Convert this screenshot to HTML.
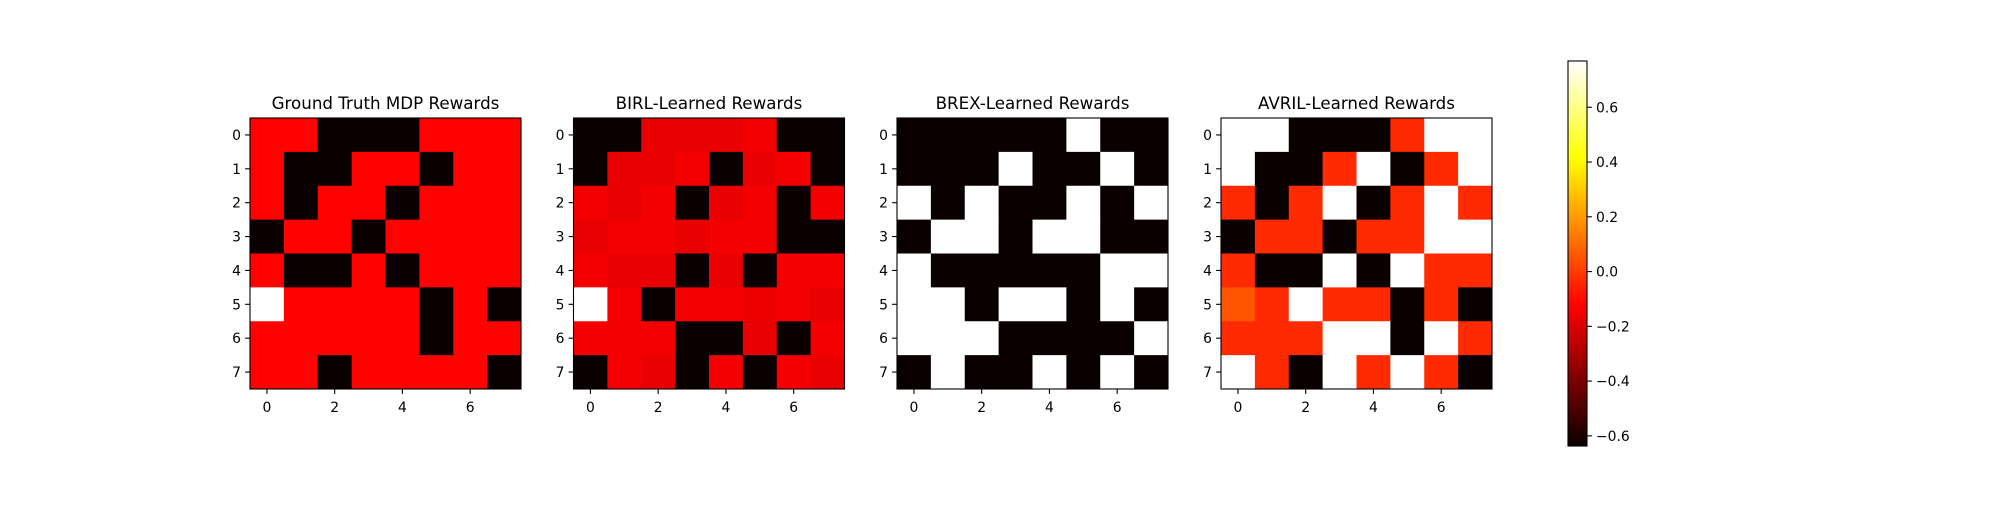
<!DOCTYPE html>
<html><head><meta charset="utf-8"><style>
html,body{margin:0;padding:0;background:#fff;}
svg text{font-family:"DejaVu Sans","Liberation Sans",sans-serif;fill:#000;}
</style></head><body>
<svg id="fig" width="2000" height="500" xmlns="http://www.w3.org/2000/svg"></svg>
<script>
const titles = ["Ground Truth MDP Rewards","BIRL-Learned Rewards","BREX-Learned Rewards","AVRIL-Learned Rewards"];
const xTickLabels = ["0","2","4","6"];
const yTickLabels = ["0","1","2","3","4","5","6","7"];
const cbTicks = [-0.6,-0.4,-0.2,0.0,0.2,0.4,0.6];
const vmin = -0.637, vmax = 0.769;
const B=-0.637, W=0.769;
const gtValues = [
 [-0.12,-0.12,B,B,B,-0.12,-0.12,-0.12],
 [-0.12,B,B,-0.12,-0.12,B,-0.12,-0.12],
 [-0.12,B,-0.12,-0.12,B,-0.12,-0.12,-0.12],
 [B,-0.12,-0.12,B,-0.12,-0.12,-0.12,-0.12],
 [-0.12,B,B,-0.12,B,-0.12,-0.12,-0.12],
 [W,-0.12,-0.12,-0.12,-0.12,B,-0.12,B],
 [-0.12,-0.12,-0.12,-0.12,-0.12,B,-0.12,-0.12],
 [-0.12,-0.12,B,-0.12,-0.12,-0.12,-0.12,B]];
const birlValues = [
 [B,B,-0.17,-0.17,-0.17,-0.145,B,B],
 [B,-0.17,-0.17,-0.145,B,-0.17,-0.145,B],
 [-0.145,-0.17,-0.145,B,-0.17,-0.145,B,-0.145],
 [-0.17,-0.145,-0.145,-0.17,-0.145,-0.145,B,B],
 [-0.145,-0.17,-0.17,B,-0.17,B,-0.145,-0.145],
 [W,-0.145,B,-0.145,-0.145,-0.16,-0.15,-0.17],
 [-0.145,-0.145,-0.145,B,B,-0.17,B,-0.145],
 [B,-0.145,-0.17,B,-0.145,B,-0.145,-0.17]];
const brexValues = [
 [B,B,B,B,B,W,B,B],
 [B,B,B,W,B,B,W,B],
 [W,B,W,B,B,W,B,W],
 [B,W,W,B,W,W,B,B],
 [W,B,B,B,B,B,W,W],
 [W,W,B,W,W,B,W,B],
 [W,W,W,B,B,B,B,W],
 [B,W,B,B,W,B,W,B]];
const O=-0.035;
const avrilValues = [
 [W,W,B,B,B,O,W,W],
 [W,B,B,O,W,B,O,W],
 [O,B,O,W,B,O,W,O],
 [B,O,O,B,O,O,W,W],
 [O,B,B,W,B,W,O,O],
 [0.055,O,W,O,O,B,O,B],
 [O,O,O,W,W,B,W,O],
 [W,O,B,W,O,W,O,B]];
const panels = [gtValues,birlValues,brexValues,avrilValues];

const NS="http://www.w3.org/2000/svg";
const svg=document.getElementById('fig');
function mk(tag,attrs,parent){const e=document.createElementNS(NS,tag);for(const k in attrs)e.setAttribute(k,attrs[k]);(parent||svg).appendChild(e);return e;}
function hot(v){let t=(v-vmin)/(vmax-vmin);t=Math.max(0,Math.min(1,t));
 const r=Math.min(1,0.0416+t/0.365*(1-0.0416)), g=Math.max(0,Math.min(1,(t-0.365)/0.381)), b=Math.max(0,Math.min(1,(t-0.746)/0.254));
 return `rgb(${Math.round(r*255)},${Math.round(g*255)},${Math.round(b*255)})`;}
const panelX=[250,573.5,897,1221], axTop=118, size=271, n=8, cell=size/n;
function xs(c,i){return panelX[i]+c*cell;}
function ys(r){return axTop+r*cell;}
panels.forEach((vals,i)=>{
 const g=mk('g',{});
 
 
 vals.forEach((row,r)=>row.forEach((v,c)=>{
  const rc=mk('rect',{x:xs(c,i),y:ys(r),width:cell+0.5,height:cell+0.5,fill:hot(v)},g);
  
  
 }));
 const fr=mk('rect',{x:panelX[i],y:axTop,width:size,height:size,fill:'none',stroke:'#000','stroke-width':1.1},g);
 
 
 const t=mk('text',{x:panelX[i]+size/2,y:109,'text-anchor':'middle','font-size':16.7},g);
 t.textContent=titles[i];
 
 
 yTickLabels.forEach((lab,r)=>{
  const yy=ys(r)+cell/2;
  mk('line',{x1:panelX[i]-4.9,x2:panelX[i],y1:yy,y2:yy,stroke:'#000','stroke-width':1.1},g);
  const tl=mk('text',{x:panelX[i]-9,y:yy+5,'text-anchor':'end','font-size':13.9},g);
  tl.textContent=lab;
  
  
 });
 xTickLabels.forEach((lab)=>{
  const xx=xs(+lab,i)+cell/2;
  mk('line',{x1:xx,x2:xx,y1:axTop+size,y2:axTop+size+4.9,stroke:'#000','stroke-width':1.1},g);
  const tl=mk('text',{x:xx,y:axTop+size+23,'text-anchor':'middle','font-size':13.9},g);
  tl.textContent=lab;
  
  
 });
});
const cbX=1568, cbW=19, cbTop=61, cbBot=446;
function cy(v){return cbBot-(v-vmin)/(vmax-vmin)*(cbBot-cbTop);}
const defs=mk('defs',{});
const grad=mk('linearGradient',{id:'hotgrad',x1:0,y1:1,x2:0,y2:0},defs);
for(let k=0;k<=40;k++){const v=vmin+(vmax-vmin)*k/40;mk('stop',{offset:(k/40),'stop-color':hot(v)},grad);}
const cbg=mk('g',{});


mk('rect',{x:cbX,y:cbTop,width:cbW,height:cbBot-cbTop,fill:'url(#hotgrad)',stroke:'#000','stroke-width':1.1},cbg);
cbTicks.forEach(v=>{
 const yy=cy(v);
 mk('line',{x1:cbX+cbW,x2:cbX+cbW+4.9,y1:yy,y2:yy,stroke:'#000','stroke-width':1.1},cbg);
 const tl=mk('text',{x:cbX+cbW+9,y:yy+5,'font-size':13.9},cbg);
 tl.textContent=(v<0?'\u2212':'')+Math.abs(v).toFixed(1);
 
 
});
</script>
</body></html>
